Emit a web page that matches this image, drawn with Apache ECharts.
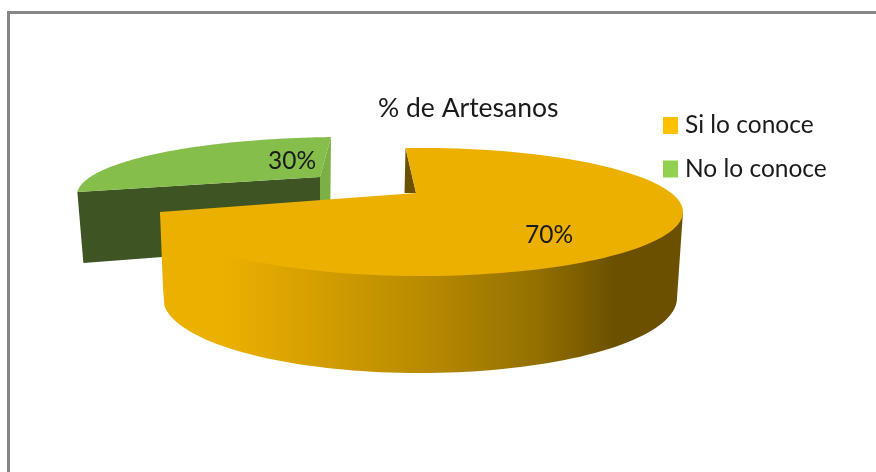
<!DOCTYPE html>
<html>
<head>
<meta charset="utf-8">
<style>html,body{margin:0;padding:0;background:#fff}#c{width:876px;height:472px}</style>
<script src="https://cdn.jsdelivr.net/npm/echarts@6/dist/echarts.min.js"></script>
</head>
<body>
<div id="c"></div>
<script>
const titleText = '% de Artesanos';
const categories = ['No lo conoce', 'Si lo conoce'];
const values = [30, 70];

const FONT = 'Lato, "Open Sans", sans-serif';
const slices = [
  { // green slice, behind
    legendColor: '#92D050', top: '#86BE4C',
    cx: 345, cy: 195, rx: 268, ry: 58, start: 183, warp: 84 / 108,
    apex: [320, 177], label: [292, 161]
  },
  { // orange slice, in front
    legendColor: '#FFC000', top: '#ECB000',
    cx: 421.5, cy: 212, rx: 261.5, ry: 64, start: -93.5, warp: 273.5 / 252,
    apex: [416, 193], label: [549, 235]
  }
];

function rim(s, value) {
  const sweep = value * 3.6 * s.warp;
  const pts = [];
  for (let i = 0; i <= 120; i++) {
    const t = (s.start + sweep * i / 120) * Math.PI / 180;
    pts.push([s.cx + s.rx * Math.cos(t), s.cy + s.ry * Math.sin(t)]);
  }
  return pts;
}
function poly(points, fill) {
  return { type: 'polygon', shape: { points }, style: { fill, stroke: null } };
}
function labelEl(s, value) {
  return {
    type: 'text',
    style: { text: value + '%', x: s.label[0], y: s.label[1], font: '24.5px ' + FONT,
             fill: '#1a1a1a', align: 'center', verticalAlign: 'middle' }
  };
}
function renderGreen(params, api) {
  const v = api.value(0), s = slices[0], r = rim(s, v);
  const a = r[0], b = r[r.length - 1];
  return { type: 'group', children: [
    poly([b, s.apex, [s.apex[0], s.apex[1] + 68], [b[0] - 1, b[1] + 102]], '#7DB044'),
    poly([a, s.apex, [s.apex[0], s.apex[1] + 68], [a[0] + 6, a[1] + 71]], '#3E5423'),
    poly(r.concat([s.apex]), s.top),
    labelEl(s, v)
  ]};
}
function renderOrange(params, api) {
  const v = api.value(0), s = slices[1], r = rim(s, v);
  const a = r[0];
  // side wall: front part of the top rim extruded downward
  const bcx = 420, bcy = 298, brx = 257, bry = 75;
  const bottom = [];
  for (let i = 0; i <= 80; i++) {
    const t = (2 + 172 * i / 80) * Math.PI / 180;
    bottom.push([bcx + brx * Math.cos(t), bcy + bry * Math.sin(t)]);
  }
  const front = r.filter(p => p[1] >= s.cy - 1 && p[0] >= s.cx - s.rx);
  // tuck the wall's upper edge under the top face, so no seam shows
  const tucked = front.map((p, i) => (i === 0 || i === front.length - 1) ? p
    : [s.cx + (p[0] - s.cx) * 0.99, s.cy + (p[1] - s.cy) * 0.95]);
  const wall = tucked.concat([[163, 288]], bottom.slice().reverse());
  const grad = new echarts.graphic.LinearGradient(160, 0, 683, 0, [
    { offset: 0, color: '#ECB000' },
    { offset: 0.12, color: '#ECB000' },
    { offset: 0.5, color: '#B98B00' },
    { offset: 0.72, color: '#937000' },
    { offset: 0.87, color: '#6B5000' },
    { offset: 1, color: '#6B5000' }
  ], true);
  return { type: 'group', children: [
    poly([a, [a[0] - 1, s.apex[1]], s.apex], '#6B5000'),
    poly(wall, grad),
    poly(r.concat([s.apex]), s.top),
    labelEl(s, v)
  ]};
}

const chart = echarts.init(document.getElementById('c'), null, { renderer: 'canvas' });
chart.setOption({
  animation: false,
  backgroundColor: '#fff',
  title: {
    text: titleText, left: 373, top: 90,
    textStyle: { fontFamily: FONT, fontWeight: 'normal', fontSize: 26.5, color: '#1a1a1a' }
  },
  legend: {
    orient: 'vertical', left: 663, top: 113, padding: 0, itemWidth: 15, itemHeight: 17, itemGap: 18.5,
    icon: 'rect', data: [categories[1], categories[0]],
    textStyle: { fontFamily: FONT, fontSize: 24.5, color: '#1a1a1a', padding: [0, 0, 0, 2] }
  },
  graphic: [
    { type: 'line', shape: { x1: 8.5, y1: 12.5, x2: 876, y2: 12.5 }, style: { stroke: '#868686', lineWidth: 3 }, silent: true },
    { type: 'line', shape: { x1: 8.5, y1: 11, x2: 8.5, y2: 472 }, style: { stroke: '#868686', lineWidth: 3 }, silent: true }
  ],
  series: [
    { type: 'custom', name: categories[0], coordinateSystem: 'none', renderItem: renderGreen,
      itemStyle: { color: slices[0].legendColor }, data: [[values[0]]], silent: true },
    { type: 'custom', name: categories[1], coordinateSystem: 'none', renderItem: renderOrange,
      itemStyle: { color: slices[1].legendColor }, data: [[values[1]]], silent: true }
  ]
});
</script>
</body>
</html>
